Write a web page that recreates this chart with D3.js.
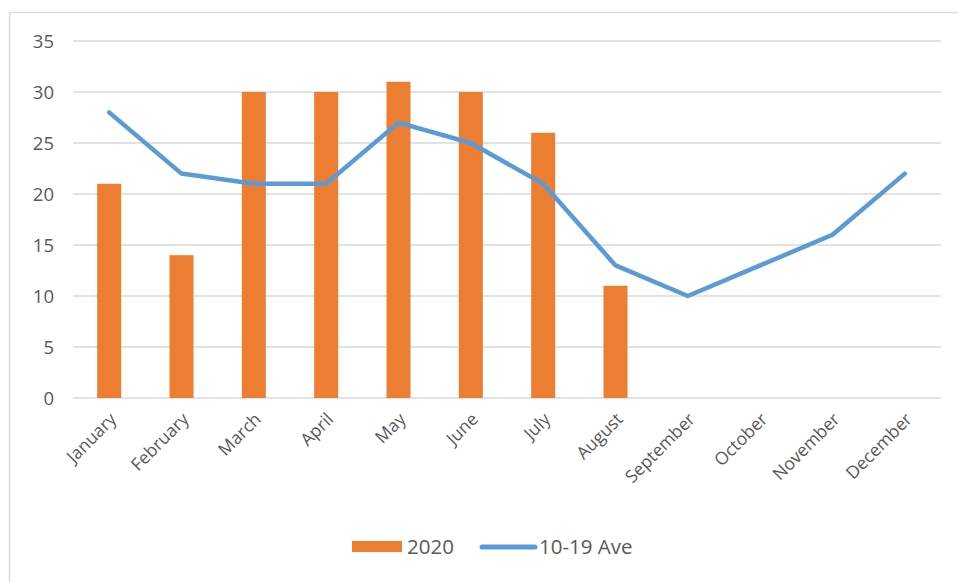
<!DOCTYPE html>
<html>
<head>
<meta charset="utf-8">
<script src="https://cdn.jsdelivr.net/npm/d3@7"></script>
<style>
  body { margin: 0; background: #fff; }
  text { font-family: "Open Sans", "Noto Sans", sans-serif; fill: #595959; }
</style>
</head>
<body>
<div class="canvas"></div>
<script>
const months = ["January", "February", "March", "April", "May", "June",
  "July", "August", "September", "October", "November", "December"];
const values2020 = [21, 14, 30, 30, 31, 30, 26, 11];
const aveValues = [28, 22, 21, 21, 27, 25, 21, 13, 10, 13, 16, 22];
const yTicks = [0, 5, 10, 15, 20, 25, 30, 35];

const width = 958, height = 582;
const margin = { top: 41, right: 17, bottom: 184, left: 73 };
const graphWidth = width - margin.left - margin.right;
const graphHeight = height - margin.top - margin.bottom;

const svg = d3.select(".canvas").append("svg")
  .attr("width", width)
  .attr("height", height);

// outer frame
svg.append("rect")
  .attr("x", 9.5).attr("y", 12.5)
  .attr("width", 960).attr("height", 600)
  .attr("fill", "none")
  .attr("stroke", "#d9d9d9")
  .attr("stroke-width", 1.5);

const graph = svg.append("g")
  .attr("transform", `translate(${margin.left},${margin.top})`);

//scales
const x = d3.scaleBand().domain(months).range([0, graphWidth]);
const y = d3.scaleLinear().domain([0, 35]).range([graphHeight, 0]);

//gridlines
graph.append("g")
  .selectAll("line")
  .data(yTicks)
  .join("line")
  .attr("x1", 0).attr("x2", graphWidth)
  .attr("y1", d => y(d)).attr("y2", d => y(d))
  .attr("stroke", "#d9d9d9")
  .attr("stroke-width", 1.5);

//y labels
graph.append("g")
  .selectAll("text")
  .data(yTicks)
  .join("text")
  .attr("x", -19)
  .attr("y", d => y(d))
  .attr("dy", "0.36em")
  .attr("text-anchor", "end")
  .style("font-size", "18.5px")
  .text(d => d);

//bars
const barWidth = 24;
graph.append("g")
  .selectAll("rect")
  .data(values2020)
  .join("rect")
  .attr("x", (d, i) => x(months[i]) + x.bandwidth() / 2 - barWidth / 2)
  .attr("y", d => y(d))
  .attr("width", barWidth)
  .attr("height", d => graphHeight - y(d))
  .attr("fill", "#ed7d31");

//line
const line = d3.line()
  .x((d, i) => x(months[i]) + x.bandwidth() / 2)
  .y(d => y(d));

graph.append("path")
  .datum(aveValues)
  .attr("fill", "none")
  .attr("stroke", "#5b9bd5")
  .attr("stroke-width", 4.5)
  .attr("stroke-linejoin", "round")
  .attr("stroke-linecap", "round")
  .attr("d", line);

//x labels
graph.append("g")
  .selectAll("text")
  .data(months)
  .join("text")
  .attr("transform", d => `translate(${x(d) + x.bandwidth() / 2 + 4},${graphHeight + 18}) rotate(-45)`)
  .attr("text-anchor", "end")
  .attr("dy", "0.35em")
  .style("font-size", "17.5px")
  .text(d => d);

//legend
const legend = svg.append("g");
legend.append("rect")
  .attr("x", 352).attr("y", 541)
  .attr("width", 50).attr("height", 11)
  .attr("fill", "#ed7d31");
legend.append("text")
  .attr("x", 407).attr("y", 547)
  .attr("dy", "0.36em")
  .style("font-size", "20.5px")
  .text("2020");
legend.append("line")
  .attr("x1", 482).attr("x2", 535)
  .attr("y1", 547).attr("y2", 547)
  .attr("stroke", "#5b9bd5")
  .attr("stroke-width", 5)
  .attr("stroke-linecap", "round");
legend.append("text")
  .attr("x", 539).attr("y", 547)
  .attr("dy", "0.36em")
  .style("font-size", "20.5px")
  .text("10-19 Ave");
</script>
</body>
</html>
